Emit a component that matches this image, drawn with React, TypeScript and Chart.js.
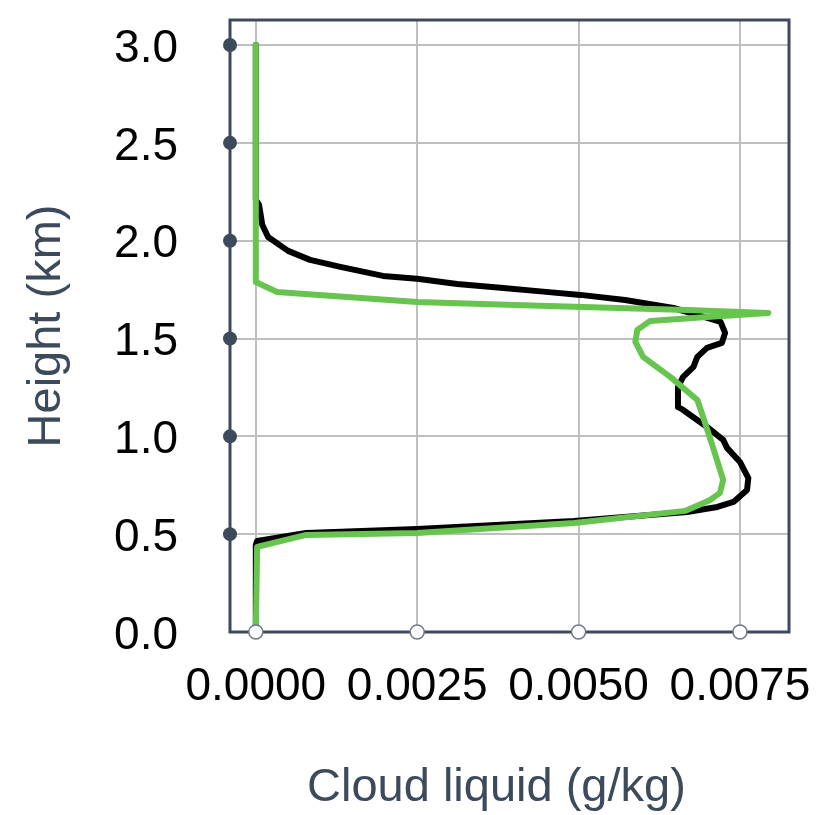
import React, { useEffect, useRef } from "react";
import { Chart, registerables } from "chart.js";

Chart.register(...registerables);

// Height (km) and cloud liquid (g/kg) of the black profile
const blackHeights = [
  3.0, 2.209, 2.183, 2.081, 2.019, 1.948, 1.902, 1.866, 1.82, 1.805, 1.779, 1.759,
  1.741, 1.723, 1.697, 1.656, 1.621, 1.585, 1.529, 1.478, 1.452, 1.406, 1.355,
  1.304, 1.253, 1.15, 1.135, 1.048, 0.982, 0.941, 0.869, 0.787, 0.726, 0.665,
  0.639, 0.613, 0.567, 0.527, 0.506, 0.465, 0.445, 0.0,
];
const blackValues = [
  0, 0, 0.00005, 0.0001, 0.00019, 0.0005, 0.00084, 0.00131, 0.00197, 0.0025,
  0.00312, 0.00379, 0.00441, 0.00503, 0.00572, 0.00647, 0.00684, 0.0072, 0.00727,
  0.00722, 0.00699, 0.00684, 0.00678, 0.00662, 0.00654, 0.00654, 0.00662, 0.00699,
  0.00724, 0.0073, 0.0075, 0.00763, 0.00761, 0.0074, 0.00715, 0.00668, 0.00493,
  0.0025, 0.00078, 0.00002, 0, 0,
];

// Height (km) and cloud liquid (g/kg) of the green profile
const greenHeights = [
  3.0, 1.789, 1.738, 1.687, 1.667, 1.646, 1.631, 1.61, 1.59, 1.544, 1.483, 1.406,
  1.304, 1.186, 1.099, 0.946, 0.777, 0.711, 0.675, 0.619, 0.557, 0.506, 0.496,
  0.435, 0.0,
];
const greenValues = [
  0, 0, 0.00033, 0.0025, 0.00441, 0.00668, 0.00794, 0.00699, 0.00611, 0.00591,
  0.00588, 0.006, 0.00642, 0.00684, 0.00693, 0.00708, 0.00724, 0.00719, 0.00704,
  0.00665, 0.00493, 0.0025, 0.00078, 0.00002, 0,
];

const xTickValues = [0, 0.0025, 0.005, 0.0075];
const yTickValues = [0, 0.5, 1.0, 1.5, 2.0, 2.5, 3.0];

const xAxisTitle = "Cloud liquid (g/kg)";
const yAxisTitle = "Height (km)";

const SLATE = "#3c4a5b";
const GRID = "#bfbfbf";
const GREEN = "#66c44f";
const FONT = "'Liberation Sans', Arial, Helvetica, sans-serif";

const framePlugin = {
  id: "frameAndMarkers",
  afterDraw(chart: any) {
    const { ctx, chartArea: a, scales } = chart;
    ctx.save();
    ctx.strokeStyle = SLATE;
    ctx.lineWidth = 3;
    ctx.strokeRect(a.left, a.top, a.right - a.left, a.bottom - a.top);
    // y-axis markers
    scales.y.ticks.forEach((t: any) => {
      if (t.value <= 0) return;
      const py = scales.y.getPixelForValue(t.value);
      ctx.beginPath();
      ctx.arc(a.left, py, 7, 0, Math.PI * 2);
      ctx.fillStyle = SLATE;
      ctx.fill();
    });
    // x-axis markers
    scales.x.ticks.forEach((t: any) => {
      const px = scales.x.getPixelForValue(t.value);
      ctx.beginPath();
      ctx.arc(px, a.bottom, 7, 0, Math.PI * 2);
      ctx.fillStyle = "#ffffff";
      ctx.fill();
      ctx.lineWidth = 1.5;
      ctx.strokeStyle = "#6f7b89";
      ctx.stroke();
    });
    ctx.restore();
  },
};

export default function App() {
  const canvasRef = useRef<HTMLCanvasElement | null>(null);

  useEffect(() => {
    if (!canvasRef.current) return;
    const black = blackHeights.map((h, i) => ({ x: blackValues[i], y: h }));
    const green = greenHeights.map((h, i) => ({ x: greenValues[i], y: h }));

    const chart = new Chart(canvasRef.current, {
      type: "scatter",
      data: {
        datasets: [
          {
            label: "green",
            data: green,
            showLine: true,
            borderColor: GREEN,
            backgroundColor: GREEN,
            borderWidth: 6,
            pointRadius: 0,
            borderJoinStyle: "round",
            borderCapStyle: "round",
            order: 0,
          },
          {
            label: "black",
            data: black,
            showLine: true,
            borderColor: "#000000",
            backgroundColor: "#000000",
            borderWidth: 6,
            pointRadius: 0,
            borderJoinStyle: "round",
            borderCapStyle: "round",
            order: 1,
          },
        ],
      },
      options: {
        animation: false,
        responsive: true,
        maintainAspectRatio: false,
        layout: { padding: { top: 20, right: 30, left: 0, bottom: 0 } },
        plugins: {
          legend: { display: false },
          tooltip: { enabled: false },
        },
        scales: {
          x: {
            type: "linear",
            min: -0.0004,
            max: 0.00826,
            afterBuildTicks: (s: any) => {
              s.ticks = xTickValues.map((value) => ({ value }));
            },
            afterFit: (s: any) => {
              s.height = 183;
              s.paddingLeft = 0;
              s.paddingRight = 0;
            },
            ticks: {
              callback: (v: any) => Number(v).toFixed(4),
              padding: 28,
              color: "#000000",
              font: { family: FONT, size: 46 },
              maxRotation: 0,
              autoSkip: false,
            },
            grid: { color: GRID, lineWidth: 2, drawTicks: false },
            border: { display: false },
            title: {
              display: true,
              text: xAxisTitle + "  ",
              color: SLATE,
              font: { family: FONT, size: 47, lineHeight: 0.72 },
              padding: { top: 0, bottom: 10 },
            },
          },
          y: {
            type: "linear",
            min: 0,
            max: 3.128,
            afterBuildTicks: (s: any) => {
              s.ticks = yTickValues.map((value) => ({ value }));
            },
            afterFit: (s: any) => {
              s.width = 230;
              s.paddingTop = 0;
              s.paddingBottom = 0;
            },
            ticks: {
              callback: (v: any) => Number(v).toFixed(1),
              padding: 52,
              labelOffset: 4,
              color: "#000000",
              font: { family: FONT, size: 46 },
              autoSkip: false,
            },
            grid: { color: GRID, lineWidth: 2, drawTicks: false },
            border: { display: false },
            title: {
              display: true,
              text: yAxisTitle,
              color: SLATE,
              font: { family: FONT, size: 47, lineHeight: 0.72 },
              padding: { top: 30, bottom: 0 },
            },
          },
        },
      },
      plugins: [framePlugin],
    });
    return () => chart.destroy();
  }, []);

  return (
    <div style={{ position: "absolute", left: 0, top: 0, width: 819, height: 815 }}>
      <canvas ref={canvasRef} />
    </div>
  );
}
